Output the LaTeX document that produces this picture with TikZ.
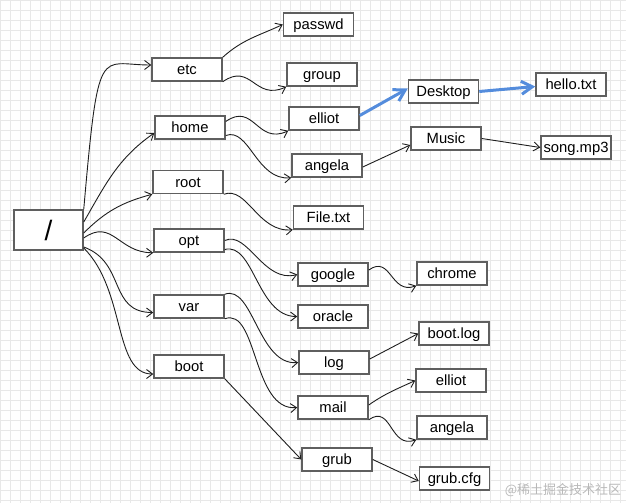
\documentclass[tikz,border=0pt]{standalone}
\usepackage{fontspec}
\usetikzlibrary{arrows.meta}
\setmainfont{Liberation Sans}
\newfontfamily\cjkfont{Noto Sans CJK SC}
\definecolor{bcol}{RGB}{95,95,95}
\definecolor{lcol}{RGB}{30,30,30}
\definecolor{hcol}{RGB}{84,140,220}
\definecolor{gcol}{RGB}{232,232,232}
\tikzset{every picture/.style={x=1pt,y=1pt}}
\tikzset{box/.style={draw=bcol,line width=1.5pt,fill=white,minimum width=70pt,minimum height=23pt,inner sep=1pt,font=\fontsize{14.8}{17}\selectfont,text height=10.6pt,text depth=0pt}}
\tikzset{bigbox/.style={box,minimum width=69pt,minimum height=40pt,font=\fontsize{28}{30}\selectfont,text height=20pt,text depth=0pt}}
\tikzset{edge/.style={-{Straight Barb[length=6pt,width=9pt]},draw=lcol,line width=0.9pt}}
\tikzset{hl/.style={-{Straight Barb[length=11pt,width=13pt]},draw=hcol,line width=3pt}}
\tikzset{wmark/.style={text=black!28,font=\cjkfont\fontsize{13}{15}\selectfont,inner sep=0pt}}

\begin{document}
\begin{tikzpicture}
\useasboundingbox (0,0) rectangle (626,-503);
\draw [gcol,line width=0.6pt,step=10] (0,-503) grid (626,0);

\node [bigbox] (rootdir) at (48.5,-230) {/};

\node [box] (etc) at (187,-69.5) {etc};
\node [box] (home) at (190,-127.5) {home};
\node [box] (root) at (188,-182) {root};
\node [box] (opt) at (189,-240.5) {opt};
\node [box] (var) at (189,-306.5) {var};
\node [box] (boot) at (189,-366.5) {boot};

\node [box] (passwd) at (318.5,-24.5) {passwd};
\node [box] (group) at (322,-74.5) {group};
\node [box] (elliot) at (324,-118.5) {elliot};
\node [box] (angela) at (327,-165.5) {angela};
\node [box] (filetxt) at (328.5,-217.5) {File.txt};
\node [box] (google) at (333,-274.5) {google};
\node [box] (oracle) at (333,-316.5) {oracle};
\node [box] (log) at (334,-362.5) {log};
\node [box] (mail) at (333,-407.5) {mail};
\node [box] (grub) at (337,-459.5) {grub};

\node [box] (desktop) at (443.5,-91.5) {Desktop};
\node [box] (music) at (446,-138.5) {Music};
\node [box] (chrome) at (452,-273.5) {chrome};
\node [box] (bootlog) at (454,-333.5) {boot.log};
\node [box] (elliotm) at (451,-380.5) {elliot};
\node [box] (angelam) at (452,-427.5) {angela};
\node [box] (grubcfg) at (454.5,-478.5) {grub.cfg};

\node [box] (hellotxt) at (571,-84.5) {hello.txt};
\node [box] (songmp3) at (576,-147.5) {song.mp3};

\draw [edge] (rootdir.north east) to [out=85,in=180,out distance=170pt,in distance=52pt] ([yshift=4.5pt]etc.west);
\draw [edge] ([yshift=8pt]rootdir.east) to [out=60,in=215] ([yshift=-5.5pt]home.west);
\draw [edge] ([yshift=-3pt]rootdir.east) to [out=45,in=195] (root.south west);
\draw [edge] ([yshift=-8pt]rootdir.east) to [out=35,in=180,distance=35pt] (opt.south west);
\draw [edge] ([yshift=-17pt]rootdir.east) to [out=-20,in=180,distance=45pt] ([yshift=-6pt]var.west);
\draw [edge] ([yshift=-18pt]rootdir.east) to [out=-45,in=180,out distance=60pt,in distance=40pt] ([yshift=-7.5pt]boot.west);

\draw [edge] (etc.north east) to [out=42,in=205] (passwd.west);
\draw [edge] (etc.south east) to [out=35,in=205,looseness=1.4] (group.south west);
\draw [edge] ([yshift=6pt]home.east) to [out=35,in=205,looseness=1.4] (elliot.south west);
\draw [edge] ([yshift=-8pt]home.east) to [out=20,in=185,out distance=25pt,in distance=35pt] (angela.south west);
\draw [edge] (root.south east) to [out=20,in=185,out distance=25pt,in distance=35pt] (filetxt.south west);
\draw [edge] (opt.east) to [out=25,in=195,out distance=25pt,in distance=35pt] (google.west);
\draw [edge] ([yshift=-9pt]opt.east) to [out=15,in=180,out distance=30pt,in distance=40pt] (oracle.west);
\draw [edge] (var.north east) to [out=20,in=185,out distance=30pt,in distance=40pt] (log.west);
\draw [edge] (var.south east) to [out=20,in=185,out distance=35pt,in distance=45pt] (mail.west);
\draw [edge] (boot.south east) -- (grub.west);

\draw [hl] ([yshift=3pt]elliot.east) -- ([yshift=3pt]desktop.west);
\draw [hl] (desktop.east) -- ([yshift=-2pt]hellotxt.west);
\draw [edge] ([yshift=-1.5pt]angela.east) -- ([yshift=-6.5pt]music.west);
\draw [edge] (music.east) -- (songmp3.west);

\draw [edge] ([yshift=4.5pt]google.east) to [out=35,in=200,looseness=1.4] (chrome.south west);
\draw [edge] ([yshift=3.5pt]log.east) -- (bootlog.west);
\draw [edge] ([yshift=2.5pt]mail.east) to [out=35,in=205] (elliotm.west);
\draw [edge] (mail.south east) to [out=35,in=200,looseness=1.4] (angelam.south west);
\draw [edge] (grub.east) -- ([yshift=-2.5pt]grubcfg.west);

\node [wmark] (wm) at (563,-490) {@稀土掘金技术社区};
\end{tikzpicture}
\end{document}
